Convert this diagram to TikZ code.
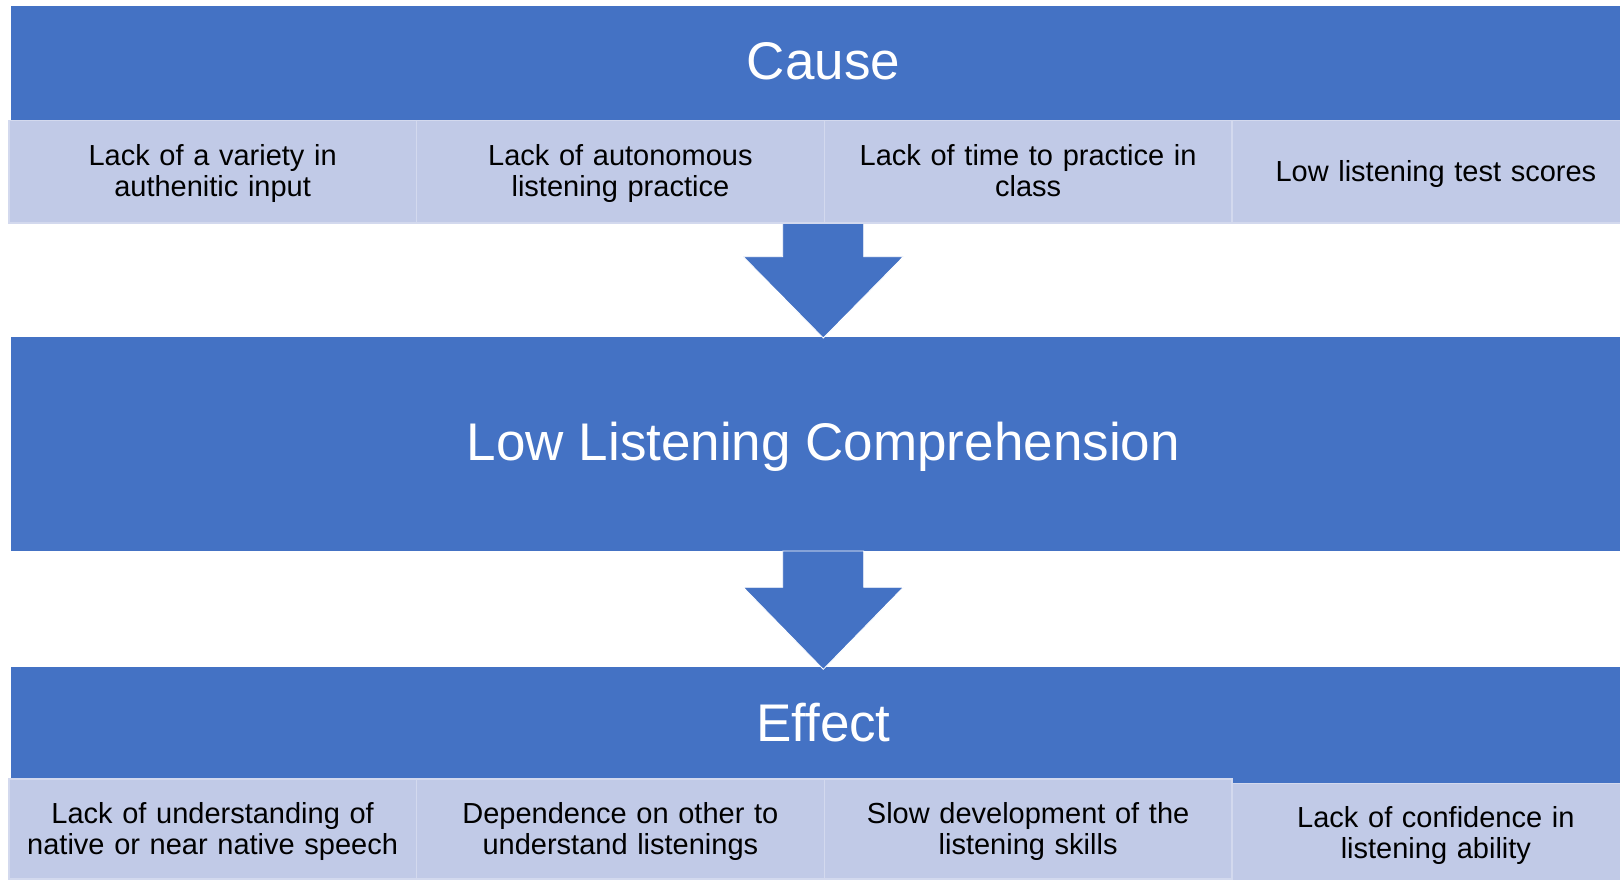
\documentclass[tikz,border=0pt]{standalone}
\usepackage{fontspec}
\setmainfont{Liberation Sans}
\definecolor{mainblue}{HTML}{4472C4}
\definecolor{cellfill}{HTML}{C1CAE7}
\definecolor{cellline}{HTML}{D3D9EE}
\newcommand{\topstrut}{\rule{0pt}{25pt}}
\newcommand{\botstrut}{\rule[-6pt]{0pt}{6pt}}
\begin{document}
\begin{tikzpicture}[x=1pt,y=-1pt,
  bluebox/.style={fill=mainblue, draw=none, inner sep=0pt, anchor=north west,
    text=white, font=\fontsize{53}{60}\selectfont, text height=38pt, text depth=5pt},
  cellbox/.style={fill=cellfill, draw=cellline, line width=1.5pt, inner sep=0pt,
    anchor=north west, minimum width=407.75pt, text width=400pt, align=center,
    text=black, font=\fontsize{29}{31}\selectfont,
    execute at begin node=\topstrut, execute at end node=\botstrut},
  blockarrow/.style={fill=mainblue, draw=white, line width=0.8pt, line join=miter}
]
\useasboundingbox (0,0) rectangle (1620,880);
\clip (0,0) rectangle (1620,880);

% Title bars
\node[bluebox, minimum width=1625pt, minimum height=114.3pt] (cause) at (10.7,5.7) {Cause};
\node[bluebox, minimum width=1625pt, minimum height=214pt] (middle) at (10.7,337) {Low Listening Comprehension};
\node[bluebox, minimum width=1625pt, minimum height=116pt] (effect) at (10.7,667) {Effect};

% Block arrows
\draw[blockarrow] (782.7,222) -- (863.7,222) -- (863.7,256.7) -- (903.3,256.7)
  -- (823.3,338) -- (743.3,256.7) -- (782.7,256.7) -- cycle;
\draw[blockarrow] (782.7,551) -- (863.7,551) -- (863.7,587.3) -- (903.3,587.3)
  -- (823.3,669.3) -- (743.3,587.3) -- (782.7,587.3) -- cycle;

% Cause cells
\node[cellbox, minimum height=102pt] (c1) at (8,120) {Lack of a variety in\\authenitic input};
\node[cellbox, minimum height=102pt] (c2) at (415.75,120) {Lack of autonomous\\listening practice};
\node[cellbox, minimum height=102pt] (c3) at (823.5,120) {Lack of time to practice in\\class};
\node[cellbox, minimum height=102pt] (c4) at (1231.25,120) {Low listening test scores};

% Effect cells
\node[cellbox, minimum height=100pt] (e1) at (8,778.3) {Lack of understanding of\\native or near native speech};
\node[cellbox, minimum height=100pt] (e2) at (415.75,778.3) {Dependence on other to\\understand listenings};
\node[cellbox, minimum height=100pt] (e3) at (823.5,778.3) {Slow development of the\\listening skills};
\node[cellbox, minimum height=100pt] (e4) at (1231.25,782.7) {Lack of confidence in\\listening ability};
\end{tikzpicture}
\end{document}
